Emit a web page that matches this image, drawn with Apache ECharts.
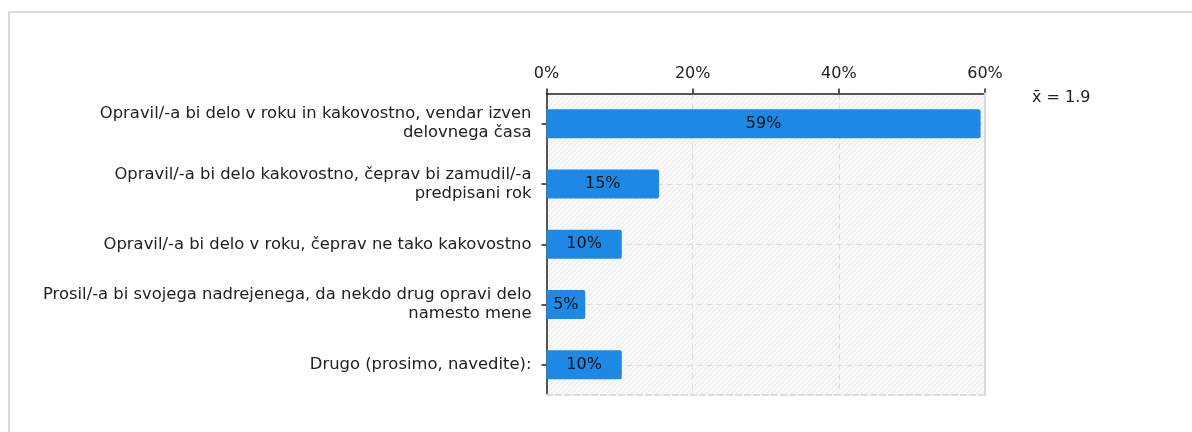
<!DOCTYPE html>
<html>
<head>
<meta charset="utf-8">
<script src="https://cdn.jsdelivr.net/npm/echarts@6/dist/echarts.min.js"></script>
<style>
html,body{margin:0;padding:0;background:#fff;}
#c{width:1192px;height:432px;}
</style>
</head>
<body>
<div id="c"></div>
<script>
var categories = [
  'Opravil/-a bi delo v roku in kakovostno, vendar izven\ndelovnega časa',
  'Opravil/-a bi delo kakovostno, čeprav bi zamudil/-a\npredpisani rok',
  'Opravil/-a bi delo v roku, čeprav ne tako kakovostno',
  'Prosil/-a bi svojega nadrejenega, da nekdo drug opravi delo\nnamesto mene',
  'Drugo (prosimo, navedite):'
];
var values = [59.4, 15.4, 10.3, 5.3, 10.3];
var xTicks = [0, 20, 40, 60];
var meanText = 'x\u0304 = 1.9';

var FONT = 'DejaVu Sans';

// hatch pattern for plot background
var pc = document.createElement('canvas');
pc.width = 5; pc.height = 5;
var ctx = pc.getContext('2d');
ctx.fillStyle = '#f9f9f9';
ctx.fillRect(0, 0, 5, 5);
ctx.strokeStyle = '#e9e9e9';
ctx.lineWidth = 1;
ctx.beginPath();
ctx.moveTo(0, 5); ctx.lineTo(5, 0);
ctx.moveTo(-1, 1); ctx.lineTo(1, -1);
ctx.moveTo(4, 6); ctx.lineTo(6, 4);
ctx.stroke();

var chart = echarts.init(document.getElementById('c'));
chart.setOption({
  animation: false,
  textStyle: { fontFamily: FONT },
  graphic: [
    { type: 'rect', shape: { x: 9, y: 12, width: 1200, height: 440 },
      style: { fill: 'none', stroke: '#dadada', lineWidth: 2 }, silent: true, z: -10 },
    { type: 'text', left: 1032, top: 90,
      style: { text: meanText, fill: '#222', font: '16px "DejaVu Sans"' } }
  ],
  grid: {
    left: 546.5, right: 207, top: 93.5, bottom: 37,
    show: true, borderWidth: 0,
    backgroundColor: { image: pc, repeat: 'repeat' }
  },
  xAxis: [{
    type: 'value', position: 'top', min: xTicks[0], max: xTicks[xTicks.length - 1], interval: 20,
    axisLine: { show: true, onZero: false, lineStyle: { color: '#222', width: 1.5 } },
    axisTick: { show: true, length: 5, lineStyle: { color: '#222', width: 1.5 } },
    axisLabel: { formatter: '{value}%', color: '#222', fontSize: 16, fontFamily: FONT, margin: 12 },
    splitLine: { show: true, lineStyle: { color: '#dedede', type: [6, 4], width: 1 } }
  }, {
    type: 'value', position: 'bottom', min: 0, max: 60,
    axisLine: { show: true, onZero: false, lineStyle: { color: '#dcdcdc', type: [6, 3], width: 2 } },
    axisTick: { show: false }, axisLabel: { show: false }, splitLine: { show: false }
  }],
  yAxis: [{
    type: 'category', inverse: true, data: categories,
    axisLine: { show: true, onZero: false, lineStyle: { color: '#222', width: 1.5 } },
    axisTick: { show: true, alignWithLabel: true, length: 5, lineStyle: { color: '#222', width: 1.5 } },
    axisLabel: { color: '#222', fontSize: 16.4, fontFamily: FONT, margin: 15, lineHeight: 19, align: 'right' },
    splitLine: { show: true, alignWithLabel: true, lineStyle: { color: '#dedede', type: [6, 4], width: 1 } }
  }, {
    type: 'category', position: 'right', inverse: true, data: categories, z: 5,
    axisLine: { show: true, onZero: false, lineStyle: { color: '#d8d8d8', width: 2 } },
    axisTick: { show: false }, axisLabel: { show: false }, splitLine: { show: false }
  }],
  series: [{
    type: 'bar', data: values, xAxisIndex: 0, yAxisIndex: 0,
    barWidth: 29,
    itemStyle: { color: '#1e88e5', borderRadius: [0, 2, 2, 0] },
    label: {
      show: true, position: 'inside', color: '#111', fontSize: 16, fontFamily: FONT,
      formatter: function (p) { return Math.round(p.value) + '%'; }
    }
  }]
});
</script>
</body>
</html>
